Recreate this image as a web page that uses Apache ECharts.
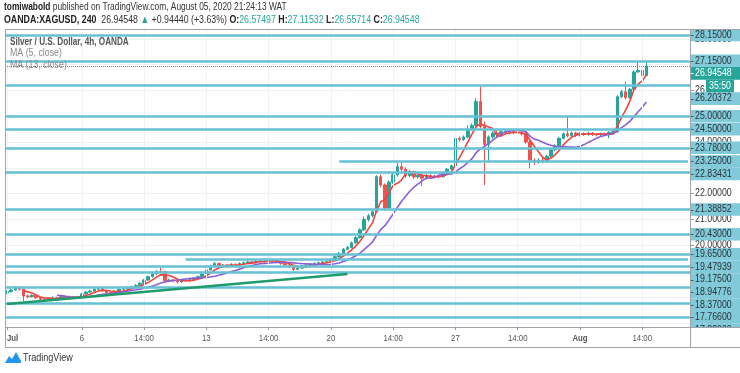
<!DOCTYPE html>
<html><head><meta charset="utf-8">
<script src="https://cdn.jsdelivr.net/npm/echarts@6/dist/echarts.min.js"></script>
<style>html,body{margin:0;padding:0;background:#fff}#c{width:740px;height:373px}</style>
</head><body><div id="c"></div>
<script>
// ---------------- data ----------------
const tradingDays = ['Jul 1','Jul 2','Jul 3','Jul 6','Jul 7','Jul 8','Jul 9','Jul 10','Jul 13','Jul 14','Jul 15','Jul 16','Jul 17','Jul 20','Jul 21','Jul 22','Jul 23','Jul 24','Jul 27','Jul 28','Jul 29','Jul 30','Jul 31','Aug 3','Aug 4','Aug 5'];
const barHours = ['02:00','06:00','10:00','14:00','18:00','22:00'];
const barCount = 155;
const emptySlots = 10;
const tickLabels = [['Jul 1 02:00','Jul'],['Jul 6 02:00','6'],['Jul 8 14:00','14:00'],['Jul 13 02:00','13'],['Jul 15 14:00','14:00'],['Jul 20 02:00','20'],['Jul 22 14:00','14:00'],['Jul 27 02:00','27'],['Jul 29 14:00','14:00'],['Aug 3 02:00','Aug'],['Aug 5 14:00','14:00']];
const monthLabels = ['Jul','Aug'];
const priceTicks = [17, 18, 19, 20, 21, 22, 23, 24, 25, 26, 27, 28];

const opens = [18.15,18.21,18.27,18.37,18.30,18.04,18.01,18.06,17.97,17.91,
 17.88,17.95,17.97,17.95,18.01,17.99,18.01,17.97,18.01,18.12,
 18.19,18.23,18.30,18.32,18.24,18.17,18.12,18.22,18.30,18.32,
 18.37,18.40,18.45,18.53,18.66,18.79,18.89,18.99,18.98,18.63,
 18.66,18.62,18.58,18.66,18.63,18.68,18.71,18.79,18.89,19.05,
 19.20,19.30,19.17,19.24,19.20,19.27,19.23,19.30,19.33,19.36,
 19.33,19.38,19.41,19.37,19.43,19.41,19.36,19.30,19.25,19.17,
 19.07,19.12,19.20,19.24,19.28,19.30,19.33,19.36,19.37,19.46,
 19.56,19.69,19.85,19.92,20.10,20.30,20.60,21.00,21.15,21.30,
 22.66,22.34,21.45,22.45,22.73,23.05,22.95,22.70,22.85,22.65,
 22.72,22.60,22.70,22.64,22.68,22.66,22.78,22.95,23.08,24.15,
 24.10,24.20,24.50,24.65,25.57,24.60,23.90,24.20,24.35,24.30,
 24.40,24.35,24.42,24.38,24.36,24.32,24.00,23.30,23.22,23.30,
 23.25,23.45,23.70,23.85,24.15,24.32,24.25,24.35,24.28,24.33,
 24.30,24.35,24.30,24.28,24.32,24.30,24.38,24.40,25.76,25.95,
 25.72,26.05,26.72,26.78,26.57497];
const closes = [18.21,18.27,18.37,18.30,18.04,18.01,18.06,17.97,17.91,17.88,
 17.95,17.97,17.95,18.01,17.99,18.01,17.97,18.01,18.12,18.19,
 18.23,18.30,18.32,18.24,18.17,18.12,18.22,18.30,18.32,18.37,
 18.40,18.45,18.53,18.66,18.79,18.89,18.99,18.98,18.63,18.66,
 18.62,18.58,18.66,18.63,18.68,18.71,18.79,18.89,19.05,19.20,
 19.30,19.17,19.24,19.20,19.27,19.23,19.30,19.33,19.36,19.33,
 19.38,19.41,19.37,19.43,19.41,19.36,19.30,19.25,19.17,19.07,
 19.12,19.20,19.24,19.28,19.30,19.33,19.36,19.37,19.46,19.56,
 19.69,19.85,19.92,20.10,20.30,20.60,21.00,21.15,21.30,22.66,
 22.34,21.45,22.45,22.73,23.05,22.95,22.70,22.85,22.65,22.72,
 22.60,22.70,22.64,22.68,22.66,22.78,22.95,23.08,24.15,24.10,
 24.20,24.50,24.65,25.57,24.60,23.90,24.20,24.35,24.30,24.40,
 24.35,24.42,24.38,24.36,24.32,24.00,23.30,23.22,23.30,23.25,
 23.45,23.70,23.85,24.15,24.32,24.25,24.35,24.28,24.33,24.30,
 24.35,24.30,24.28,24.32,24.30,24.38,24.40,25.76,25.95,25.72,
 26.05,26.72,26.78,26.575,26.94548];
const lows = [18.10,18.17,18.24,18.25,17.84,17.95,17.97,17.93,17.87,17.83,
 17.85,17.91,17.91,17.92,17.95,17.96,17.93,17.94,17.98,18.09,
 18.15,18.20,18.26,18.20,18.13,18.06,18.09,18.19,18.26,18.29,
 18.33,18.37,18.42,18.50,18.62,18.75,18.85,18.92,18.58,18.58,
 18.57,18.52,18.55,18.59,18.60,18.64,18.68,18.76,18.86,19.02,
 19.16,19.13,19.13,19.15,19.17,19.18,19.20,19.26,19.29,19.28,
 19.30,19.34,19.32,19.34,19.36,19.31,19.25,19.20,19.12,19.01,
 19.03,19.09,19.16,19.21,19.24,19.26,19.29,19.31,19.34,19.42,
 19.52,19.66,19.80,19.88,20.06,20.26,20.56,20.92,21.08,21.25,
 22.25,21.35,21.40,22.38,22.66,22.86,22.62,22.64,22.58,22.58,
 22.30,22.55,22.58,22.60,22.60,22.62,22.74,22.90,23.02,24.02,
 24.04,24.15,24.44,24.60,24.52,22.34,23.27,24.12,24.18,24.24,
 24.27,24.29,24.30,23.37,24.25,23.94,22.98,23.12,23.16,23.18,
 23.20,23.41,23.65,23.80,24.10,24.18,24.20,24.20,24.22,24.24,
 24.25,24.24,24.22,24.23,24.24,24.15,24.32,24.36,25.70,25.65,
 25.68,26.00,26.68,26.52,26.55714];
const highs = [18.26,18.33,18.42,18.40,18.33,18.09,18.11,18.09,18.00,17.95,
 17.99,18.02,18.01,18.05,18.04,18.05,18.04,18.05,18.16,18.23,
 18.28,18.34,18.37,18.36,18.27,18.20,18.25,18.33,18.36,18.41,
 18.44,18.49,18.57,18.70,18.83,18.94,19.04,19.15,19.02,18.72,
 18.70,18.66,18.70,18.70,18.72,18.75,18.83,18.93,19.09,19.25,
 19.35,19.33,19.28,19.28,19.31,19.30,19.34,19.37,19.40,19.40,
 19.42,19.46,19.44,19.48,19.47,19.44,19.39,19.33,19.28,19.20,
 19.16,19.24,19.28,19.32,19.34,19.37,19.40,19.42,19.50,19.61,
 19.74,19.90,19.98,20.15,20.36,20.66,21.12,21.22,21.36,22.72,
 22.75,22.40,22.52,22.80,23.20,23.24,23.02,22.92,22.90,22.80,
 22.78,22.76,22.76,22.74,22.73,22.83,23.00,23.13,24.25,24.22,
 24.26,24.65,24.72,25.70,26.20372,24.80,24.26,24.42,24.45,24.48,
 24.46,24.50,24.48,24.99,24.42,24.38,24.05,23.36,23.38,23.40,
 23.50,23.76,23.92,24.20,24.38,24.99,24.41,24.40,24.39,24.38,
 24.40,24.39,24.35,24.37,24.36,24.42,24.46,25.82,26.02,26.34,
 26.10,26.78,27.12,26.85,27.11532];

const fullLevels = [28.15, 27.15, 26.20372, 25.00, 24.50, 23.78, 22.83431, 21.38852, 20.43, 19.65, 19.175, 18.94776, 18.37, 17.766, 17.22];
const partialLevels = [23.25, 19.47939];
const partialStarts = ['Jul 20 10:00', 'Jul 10 06:00'];
const trendStart = ['Jul 1 02:00', 17.73];
const trendEnd = ['Jul 20 18:00', 18.89];
const maPeriods = [5, 13];
const priceMin = 16.837, priceMax = 28.382;

const authorName = 'tomiwabold';
const publishText = ' published on TradingView.com, August 05, 2020 21:24:13 WAT';
const symbolText = 'OANDA:XAGUSD, 240';
const changeText = '+0.94440 (+3.63%)';
const countdownText = '35:50';
const legendTitle = 'Silver / U.S. Dollar, 4h, OANDA';

// ---------------- build ----------------
const categories = [];
tradingDays.forEach(d => barHours.forEach(h => categories.push(d + ' ' + h)));
categories.length = barCount;
for (let k = 0; k < emptySlots; k++) categories.push('pad' + k);
const tickMap = new Map(tickLabels);
const candleData = opens.map((o, i) => [o, closes[i], lows[i], highs[i]]);
function movingAverage(n) {
  return closes.map((_, i) => {
    if (i < n - 1) return '-';
    let s = 0; for (let k = i - n + 1; k <= i; k++) s += closes[k];
    return +(s / n).toFixed(5);
  });
}
const last = barCount - 1;
const lastClose = closes[last];

const F = "'Liberation Sans',Arial,sans-serif";
const UP = '#26a69a', DOWN = '#ef5350', LEVEL = '#66c1d5', LEVELBG = '#80cad9', GRID = '#eef1f6', FRAME = '#a0a3aa';

const levelLines = fullLevels.map(v => ({yAxis: v}))
  .concat(partialLevels.map((v, i) => [{coord: [partialStarts[i], v]}, {coord: [categories[categories.length - 1], v]}]));
levelLines.push({yAxis: lastClose, lineStyle: {type: 'dotted', color: UP, width: 1}});

const chart = echarts.init(document.getElementById('c'));
const option = {
  animation: false,
  grid: {left: 5, right: 50, top: 29, bottom: 46},
  xAxis: {
    type: 'category', data: categories, boundaryGap: true,
    axisLine: {show: false},
    axisTick: {show: true, alignWithLabel: true, length: 3, interval: (i, v) => tickMap.has(v), lineStyle: {color: '#9a9a9a'}},
    axisLabel: {show: false, interval: (i, v) => tickMap.has(v)},
    splitLine: {show: false}
  },
  yAxis: {
    type: 'value', position: 'right', min: priceMin, max: priceMax, splitNumber: 12, scale: true,
    axisLine: {show: false},
    axisTick: {show: true, length: 4, lineStyle: {color: '#9a9a9a'}},
    axisLabel: {show: false},
    splitLine: {lineStyle: {color: GRID}}
  },
  series: [
    {type: 'line', data: [], z: 1, silent: true,
      markLine: {symbol: 'none', silent: true, label: {show: false}, lineStyle: {color: GRID, width: 1, type: 'solid'},
        data: tickLabels.map(t => ({xAxis: t[0]}))}},
    {type: 'candlestick', data: candleData, barWidth: 3, z: 3,
      itemStyle: {color: UP, color0: DOWN, borderColor: UP, borderColor0: DOWN, borderWidth: 1}},
    {type: 'line', name: 'MA5', data: movingAverage(maPeriods[0]), showSymbol: false, z: 4,
      lineStyle: {color: '#f0443f', width: 1.6}},
    {type: 'line', name: 'MA13', data: movingAverage(maPeriods[1]), showSymbol: false, z: 4,
      lineStyle: {color: '#8c5fd6', width: 1.6}},
    {type: 'line', data: [trendStart, trendEnd], showSymbol: false, z: 5,
      lineStyle: {color: '#1f9c6d', width: 2.5}},
    {type: 'line', data: [], z: 6, silent: true,
      markLine: {symbol: 'none', silent: true, label: {show: false}, lineStyle: {color: LEVEL, width: 2.5, type: 'solid'},
        data: levelLines}}
  ]
};
chart.setOption(option);

const yOf = v => chart.convertToPixel({yAxisIndex: 0}, v);
const xOf = c => chart.convertToPixel({xAxisIndex: 0}, c);
const g = [];
const txt = (x, y, text, o) => g.push(Object.assign({type: 'text', x, y, scaleX: o.sx || 1,
  style: {text, fill: o.fill || '#222', fontSize: o.size || 10, fontFamily: F, fontWeight: o.bold ? 'bold' : 'normal',
    align: o.align || 'left', verticalAlign: o.va || 'middle', rich: o.rich}, z: o.z || 170}));

// y tick labels (under tags)
priceTicks.forEach(v => txt(695, yOf(v), v.toFixed(5), {fill: '#333', sx: 0.88, z: 90}));
// x tick labels (first one kept inside the frame)
tickLabels.forEach((t, i) => {
  const x = xOf(t[0]);
  const edge = x < 12;
  txt(edge ? 7 : x, 338, t[1], {fill: '#555', size: 9.5, sx: 0.82, align: edge ? 'left' : 'center', bold: monthLabels.includes(t[1]), z: 90});
});

// right-axis price tags, stacked
const TAG_H = 12.6;
const tags = fullLevels.concat(partialLevels).map(v => ({y: yOf(v), text: v.toFixed(5), kind: 'level'}));
tags.push({y: yOf(lastClose), text: lastClose.toFixed(5), kind: 'price'});
tags.push({y: yOf(lastClose) + 0.001, text: countdownText, kind: 'count'});
tags.sort((a, b) => a.y - b.y);
for (let i = 1; i < tags.length; i++) tags[i].y = Math.max(tags[i].y, tags[i - 1].y + TAG_H);
tags.forEach(t => {
  const isCount = t.kind === 'count';
  const bg = t.kind === 'level' ? LEVELBG : UP;
  const x0 = isCount ? 706 : 690.5, w = isCount ? 28 : 50;
  g.push({type: 'rect', z: 100, shape: {x: x0, y: t.y - TAG_H / 2, width: w, height: TAG_H}, style: {fill: bg}});
  if (!isCount) g.push({type: 'line', z: 101, shape: {x1: 690.5, y1: Math.round(t.y) + 0.5, x2: 693.5, y2: Math.round(t.y) + 0.5}, style: {stroke: t.kind === 'level' ? '#556' : '#fff', lineWidth: 1}});
  txt(isCount ? x0 + w / 2 : 695, t.y, t.text, {fill: t.kind === 'level' ? '#2a3338' : '#fff', sx: 0.88, align: isCount ? 'center' : 'left', z: 101});
});
// cover below plot in axis column + frame
g.push({type: 'rect', z: 150, shape: {x: 690.5, y: 327.5, width: 50, height: 20}, style: {fill: '#fff'}});
g.push({type: 'rect', z: 150, shape: {x: 690.5, y: 0, width: 50, height: 29}, style: {fill: '#fff'}});
const frame = [[5.5, 29.5, 740, 29.5], [5.5, 29.5, 5.5, 347.5], [5.5, 327.5, 740, 327.5], [5.5, 347.5, 740, 347.5], [690.5, 29.5, 690.5, 347.5]];
frame.forEach(f => g.push({type: 'line', z: 160, shape: {x1: f[0], y1: f[1], x2: f[2], y2: f[3]}, style: {stroke: FRAME, lineWidth: 1}}));

// header
txt(4, 7, '{b|' + authorName + '}' + publishText, {fill: '#333', size: 11, sx: 0.76,
  rich: {b: {fontWeight: 'bold', fill: '#222', fontSize: 11, fontFamily: F}}});
const fx = v => v.toFixed(5);
txt(4, 20, '{b|' + symbolText + '}  ' + fx(lastClose) + ' {g|▲} ' + changeText + ' {b|O:}{g|' + fx(opens[last]) + '} {b|H:}{g|' + fx(highs[last]) +
  '} {b|L:}{g|' + fx(lows[last]) + '} {b|C:}{g|' + fx(closes[last]) + '}', {fill: '#333', size: 11, sx: 0.8,
  rich: {b: {fontWeight: 'bold', fill: '#222', fontSize: 11, fontFamily: F}, g: {fill: UP, fontSize: 11, fontFamily: F}}});
// legend in plot
txt(10, 42, legendTitle, {fill: '#555', size: 10.5, bold: true, sx: 0.78});
txt(10, 53.5, 'MA (' + maPeriods[0] + ', close)', {fill: '#8a8a8a', size: 10.5, sx: 0.84});
txt(10, 65, 'MA (' + maPeriods[1] + ', close)', {fill: '#8a8a8a', size: 10.5, sx: 0.84});
// footer logo
g.push({type: 'polygon', z: 170, shape: {points: [[5, 363], [9, 356], [12, 359], [16, 352], [21, 361], [21, 363]]}, style: {fill: '#2196f3'}});
txt(23, 358, 'TradingView', {fill: '#333', size: 10.5, sx: 0.86});

chart.setOption({graphic: g});
</script></body></html>
